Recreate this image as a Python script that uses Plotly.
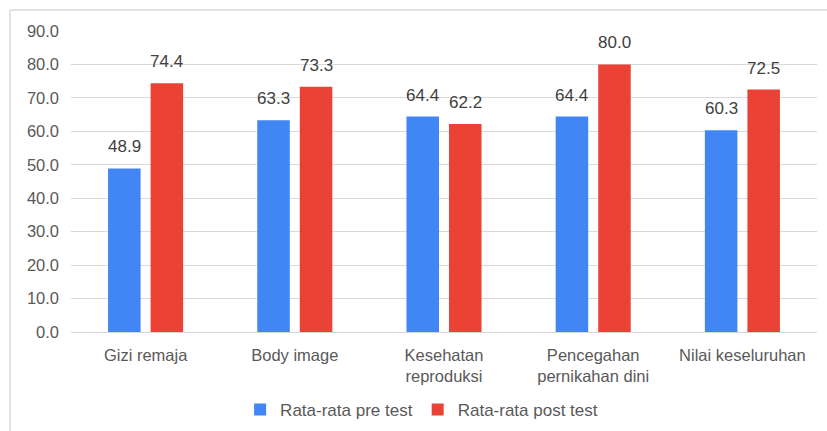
import plotly.graph_objects as go

categories = ["Gizi remaja", "Body image", "Kesehatan<br>reproduksi", "Pencegahan<br>pernikahan dini", "Nilai keseluruhan"]
pre_test = [48.9, 63.3, 64.4, 64.4, 60.3]
post_test = [74.4, 73.3, 62.2, 80.0, 72.5]
series_names = ["Rata-rata pre test", "Rata-rata post test"]
colors = ["#4285F4", "#EA4335"]

FONT = "Liberation Sans, Arial, sans-serif"
W, H = 827, 431
ML, MR, MT, MB = 71, 10, 31, 99
BARGAP, GROUPGAP = 0.43, 0.235

fig = go.Figure()
for name, vals, col in zip(series_names, [pre_test, post_test], colors):
    fig.add_trace(go.Bar(x=categories, y=vals, name=name, marker_color=col,
                         marker_line_width=0))

# value labels above bars, offset to each bar within its group
plot_w = W - ML - MR
slot = plot_w / len(categories) * (1 - BARGAP) / 2
annotations = []
for i, vals in enumerate([pre_test, post_test]):
    shift = (i - 0.5) * slot
    for c, v in zip(categories, vals):
        annotations.append(dict(x=c, y=v, xref="x", yref="y", text=f"{v:.1f}", showarrow=False,
                                xshift=shift, yshift=10, yanchor="bottom",
                                font=dict(size=17, color="#404040", family=FONT)))

fig.update_layout(
    width=W, height=H,
    margin=dict(l=ML, r=MR, t=MT, b=MB, autoexpand=False),
    paper_bgcolor="white", plot_bgcolor="white",
    barmode="group", bargap=BARGAP, bargroupgap=GROUPGAP,
    font=dict(family=FONT, size=16.5, color="#595959"),
    showlegend=True,
    legend=dict(orientation="h", x=0.47, xanchor="center", y=-0.259, yanchor="middle",
                font=dict(size=17, color="#595959"), itemwidth=30, traceorder="normal"),
    yaxis=dict(range=[0, 90], dtick=10, tickformat=".1f", showgrid=True, gridcolor="#d9d9d9",
               gridwidth=1, zeroline=True, zerolinecolor="#d9d9d9", zerolinewidth=1, showline=False,
               ticks="", ticklabelstandoff=11, tickfont=dict(size=16.5, color="#595959")),
    xaxis=dict(showline=False, ticks="", ticklabelstandoff=11,
               tickfont=dict(size=16.5, color="#595959"), tickangle=0),
    annotations=annotations,
    shapes=[
        dict(type="line", xref="paper", yref="paper", x0=-0.0818, x1=-0.0818, y0=1.0698, y1=-0.35,
             line=dict(color="#d9d9d9", width=1.5)),
        dict(type="line", xref="paper", yref="paper", x0=-0.0818, x1=1.02, y0=1.0698, y1=1.0698,
             line=dict(color="#d9d9d9", width=1.5)),
    ],
)

fig.write_html("out.html", config={"displayModeBar": False},
               post_script="document.body.style.margin='0';document.body.style.overflow='hidden';")
